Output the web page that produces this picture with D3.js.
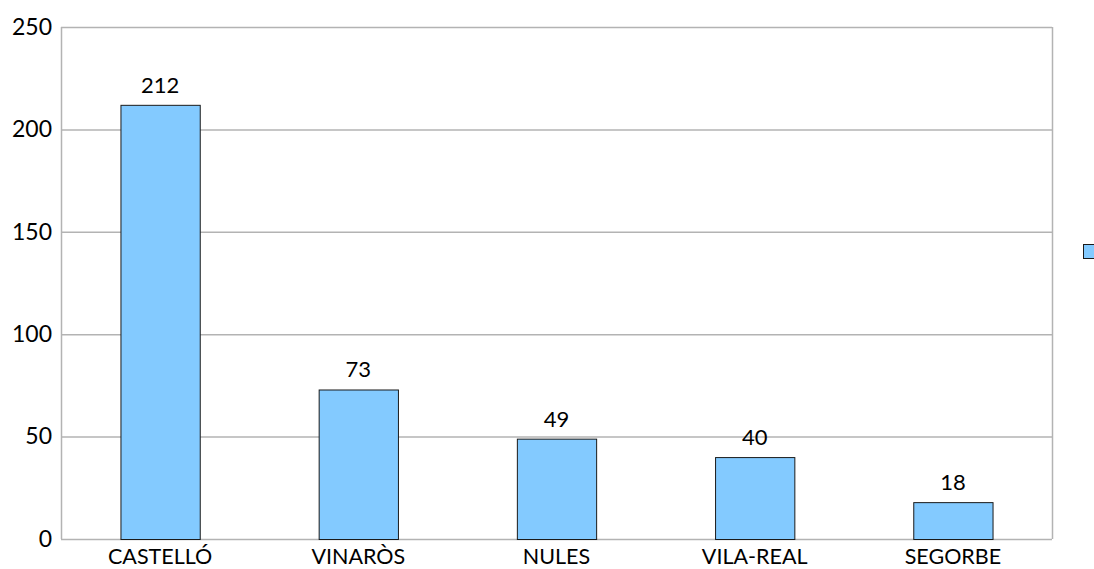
<!DOCTYPE html>
<html>
<head>
<meta charset="utf-8">
<script src="https://cdn.jsdelivr.net/npm/d3@7"></script>
<style>
  body { margin: 0; background: #fff; }
  svg text { font-family: Lato, "Noto Sans", sans-serif; fill: #000; }
</style>
</head>
<body>
<div id="container"></div>
<script>
const categories = ['CASTELLÓ', 'VINARÒS', 'NULES', 'VILA-REAL', 'SEGORBE'];
const values = [212, 73, 49, 40, 18];
const yTicks = [0, 50, 100, 150, 200, 250];

const w = 1094;
const h = 569;
const padLeft = 61;
const padRight = 1052;
const padTop = 27;
const padBot = 539;

const svg = d3.select('#container')
    .append('svg')
    .attr('width', w)
    .attr('height', h);

const x = d3.scaleBand()
    .domain(categories)
    .range([padLeft, padRight])
    .paddingInner(0.6)
    .paddingOuter(0.3);

const y = d3.scaleLinear()
    .domain([0, 250])
    .range([padBot, padTop]);

// gridlines
svg.append('g')
    .selectAll('line')
    .data(yTicks)
    .enter()
    .append('line')
    .attr('x1', padLeft)
    .attr('x2', padRight)
    .attr('y1', d => y(d) + 0.5)
    .attr('y2', d => y(d) + 0.5)
    .attr('stroke', '#b3b3b3')
    .attr('stroke-width', 1.5);

// frame sides
svg.append('line')
    .attr('x1', padLeft + 0.5).attr('x2', padLeft + 0.5)
    .attr('y1', padTop).attr('y2', padBot)
    .attr('stroke', '#b3b3b3').attr('stroke-width', 1.5);
svg.append('line')
    .attr('x1', padRight + 0.5).attr('x2', padRight + 0.5)
    .attr('y1', padTop).attr('y2', padBot)
    .attr('stroke', '#b3b3b3').attr('stroke-width', 1.5);

// y labels
const axisY = d3.axisLeft(y).tickValues(yTicks).tickSize(0).tickPadding(9);
const gy = svg.append('g')
    .attr('transform', `translate(${padLeft},0)`)
    .call(axisY);
gy.select('.domain').remove();
gy.selectAll('text').style('font-family', 'Lato, sans-serif').style('font-size', '23px').attr('fill', '#000');

// x labels
const axisX = d3.axisBottom(x).tickSize(0).tickPadding(10);
const gx = svg.append('g')
    .attr('transform', `translate(0,${padBot})`)
    .call(axisX);
gx.select('.domain').remove();
gx.selectAll('text').style('font-family', 'Lato, sans-serif').style('font-size', '21.5px').attr('fill', '#000');

// bars
svg.selectAll('rect.bar')
    .data(values)
    .enter()
    .append('rect')
    .attr('class', 'bar')
    .attr('x', (d, i) => x(categories[i]) + 0.5)
    .attr('y', d => y(d) + 0.5)
    .attr('width', x.bandwidth())
    .attr('height', d => padBot - y(d))
    .attr('fill', '#83caff')
    .attr('stroke', '#1a1a1a')
    .attr('stroke-width', 1);

// value labels
svg.selectAll('text.val')
    .data(values)
    .enter()
    .append('text')
    .attr('class', 'val')
    .attr('x', (d, i) => x(categories[i]) + x.bandwidth() / 2)
    .attr('y', d => y(d) - 12)
    .attr('text-anchor', 'middle')
    .style('font-size', '22px')
    .text(d => d);

// legend marker (clipped at the right edge)
svg.append('rect')
    .attr('x', 1083.5)
    .attr('y', 244.5)
    .attr('width', 14)
    .attr('height', 14)
    .attr('fill', '#83caff')
    .attr('stroke', '#1a1a1a')
    .attr('stroke-width', 1);
</script>
</body>
</html>
